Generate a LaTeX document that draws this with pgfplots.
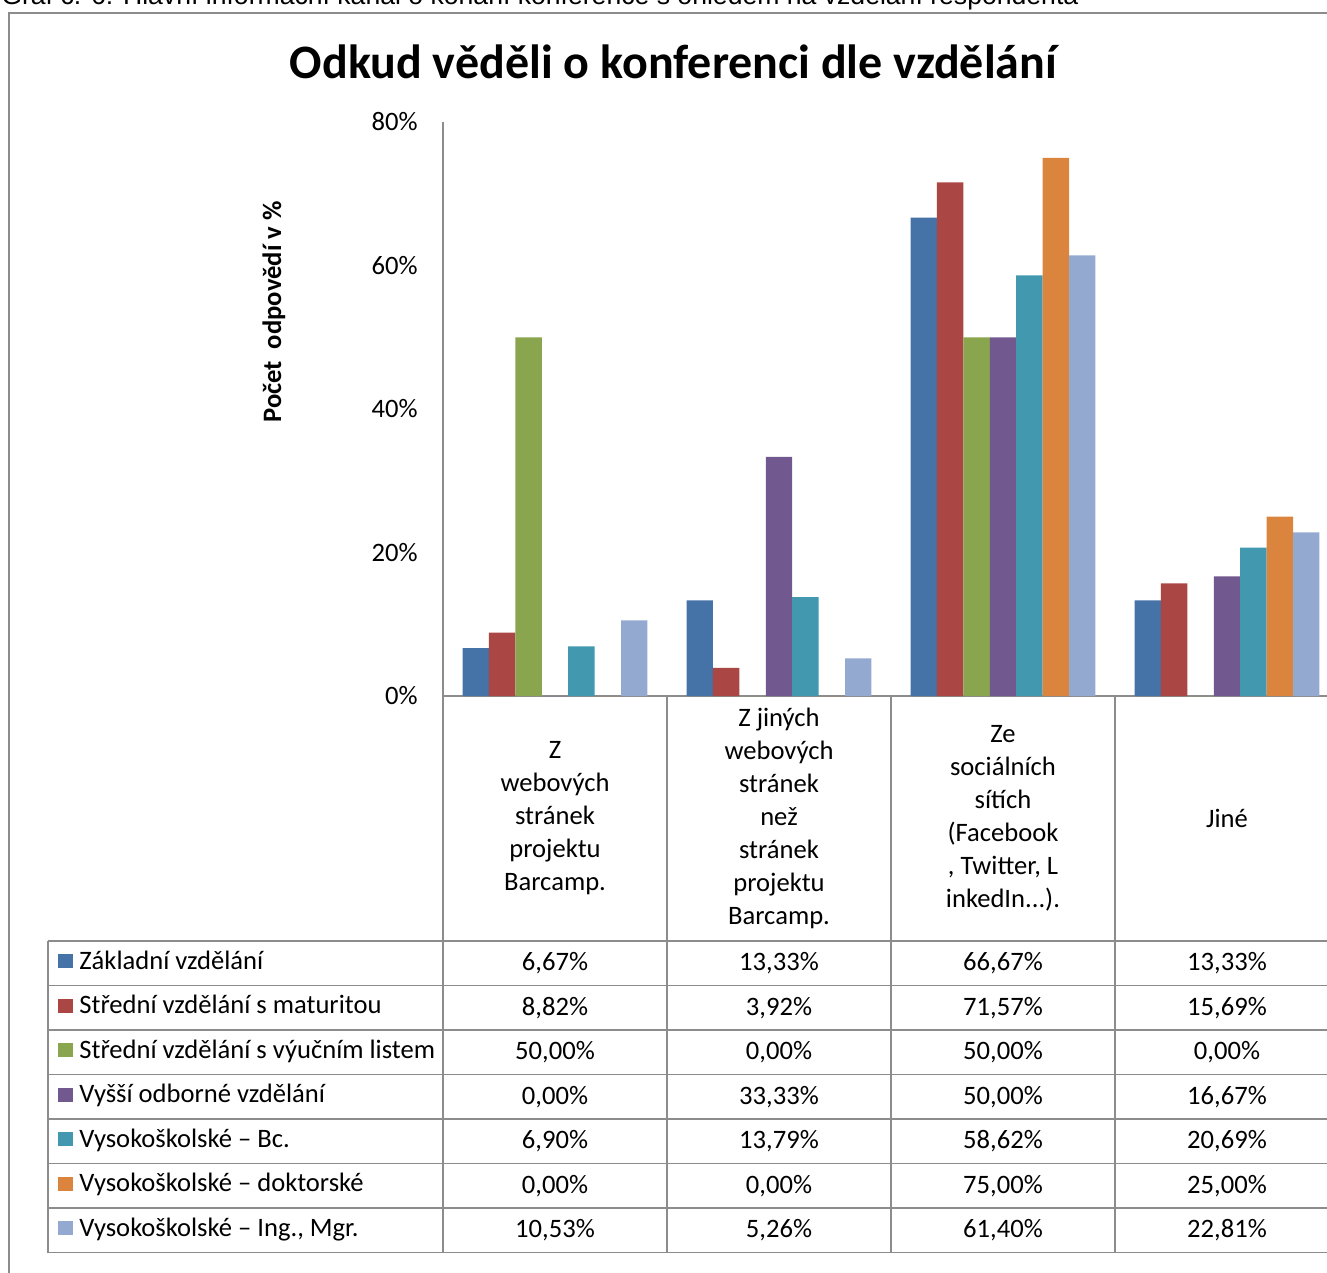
\documentclass[border=0pt]{standalone}
\usepackage{fontspec}
\setmainfont{Carlito}
\newfontfamily\capfont{Liberation Sans}
\usepackage{pgfplots}
\usepackage{pgfplotstable}
\pgfplotsset{compat=1.18}

\definecolor{c1}{HTML}{4572A7}
\definecolor{c2}{HTML}{AA4643}
\definecolor{c3}{HTML}{89A54E}
\definecolor{c4}{HTML}{71588F}
\definecolor{c5}{HTML}{4198AF}
\definecolor{c6}{HTML}{DB843D}
\definecolor{c7}{HTML}{93A9CF}
\definecolor{rule}{HTML}{8C8C8C}

% rows = categories, columns = education level (shares in %)
\pgfplotstableread{
cat s1    s2    s3    s4    s5    s6    s7
0   6.67  8.82  50.00 0.00  6.90  0.00  10.53
1   13.33 3.92  0.00  33.33 13.79 0.00  5.26
2   66.67 71.57 50.00 50.00 58.62 75.00 61.40
3   13.33 15.69 0.00  16.67 20.69 25.00 22.81
}\datatable

\newcommand{\tabfont}{\fontsize{13.3}{16.5}\selectfont}

\begin{document}
\begin{tikzpicture}
\useasboundingbox (0pt,0pt) rectangle (663.5pt,-636.5pt);
\begin{axis}[
  at={(221.5pt,-348pt)}, anchor=south west,
  scale only axis, width=442pt, height=287pt,
  xmin=-0.5, xmax=3.4464, ymin=0, ymax=80,
  ybar=0pt, bar width=0.1179,
  axis x line*=bottom, axis y line*=left,
  axis line style={draw=rule, line width=1pt},
  xtick=\empty,
  ytick={0,20,40,60,80},
  yticklabels={0\%,20\%,40\%,60\%,80\%},
  major tick length=0pt,
  yticklabel style={font=\tabfont, inner sep=0pt, anchor=east, xshift=-12.5pt},
]
\addplot[fill=c1, draw=none] table[x=cat, y=s1] {\datatable};
\addplot[fill=c2, draw=none] table[x=cat, y=s2] {\datatable};
\addplot[fill=c3, draw=none] table[x=cat, y=s3] {\datatable};
\addplot[fill=c4, draw=none] table[x=cat, y=s4] {\datatable};
\addplot[fill=c5, draw=none] table[x=cat, y=s5] {\datatable};
\addplot[fill=c6, draw=none] table[x=cat, y=s6] {\datatable};
\addplot[fill=c7, draw=none] table[x=cat, y=s7] {\datatable};
\end{axis}

% everything else in pixel units, origin top left, y downwards
\begin{scope}[x=0.5pt, y=-0.5pt]
\draw[rule, line width=1pt] (1330,13) -- (9,13) -- (9,1280);
\node[anchor=base west, inner sep=0pt, font=\capfont\fontsize{13.3}{15}\selectfont] at (1,5)
  {Graf č. 6: Hlavní informační kanál o konání konference s ohledem na vzdělání respondenta};
\node[anchor=base, inner sep=0pt, font=\bfseries\fontsize{24}{28}\selectfont] at (673.5,79)
  {Odkud věděli o konferenci dle vzdělání};
\node[rotate=90, inner sep=0pt, font=\bfseries\tabfont] at (274,312) {Počet\ \ odpovědí v \%};

% data table grid
\foreach \k in {0,...,7}
  \draw[rule, line width=0.75pt] (48,{941+44.5*\k}) -- (1330,{941+44.5*\k});
\draw[rule, line width=0.75pt] (48,941) -- (48,1252.5);
\foreach \xx in {443,667,891,1115}
  \draw[rule, line width=0.75pt] (\xx,696) -- (\xx,1252.5);

% category labels
\node[align=center, font=\tabfont] at (555,818.5) {Z\\webových\\stránek\\projektu\\Barcamp.};
\node[align=center, font=\tabfont] at (779,818.5) {Z jiných\\webových\\stránek\\než\\stránek\\projektu\\Barcamp.};
\node[align=center, font=\tabfont] at (1003,818.5) {Ze\\sociálních\\sítích\\(Facebook\\, Twitter, L\\inkedIn...).};
\node[align=center, font=\tabfont] at (1227,818.5) {Jiné};

% legend keys and series names
\foreach \i/\name in {1/{Základní vzdělání},2/{Střední vzdělání s maturitou},
    3/{Střední vzdělání s výučním listem},4/{Vyšší odborné vzdělání},
    5/{Vysokoškolské – Bc.},6/{Vysokoškolské – doktorské},7/{Vysokoškolské – Ing., Mgr.}} {
  \fill[c\i] (58.3,{954+44.5*(\i-1)}) rectangle ++(14.4,14.4);
  \node[anchor=base west, inner sep=0pt, font=\tabfont] at (79,{969+44.5*(\i-1)}) {\name};
}

% values
\foreach \r in {1,...,7} {
  \foreach \c in {0,...,3} {
    \pgfplotstablegetelem{\c}{s\r}\of\datatable
    \edef\val{\pgfplotsretval}
    \node[anchor=base, inner sep=0pt, font=\tabfont] at ({555+224*\c},{970.5+44.5*(\r-1)})
      {\pgfmathprintnumber[fixed,fixed zerofill,precision=2,use comma,assume math mode=true]{\val}\%};
  }
}
\end{scope}
\end{tikzpicture}
\end{document}
